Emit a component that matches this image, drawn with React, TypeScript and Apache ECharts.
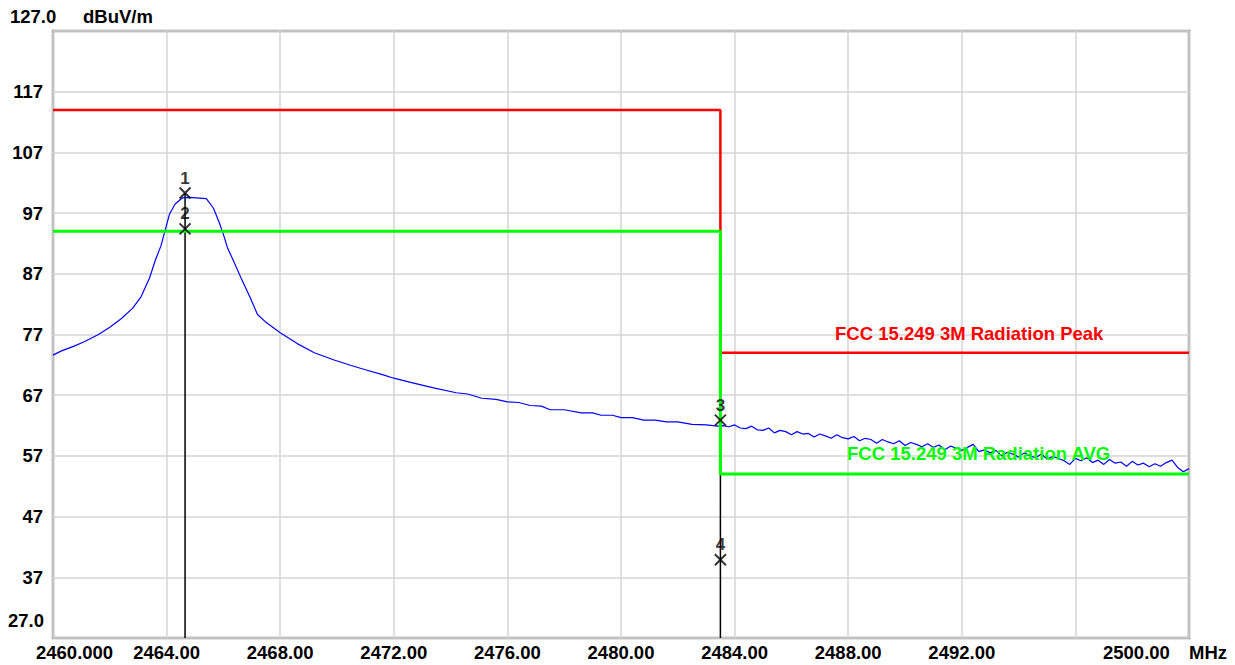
import React, { useEffect, useRef } from "react";
import * as echarts from "echarts";

// Frequency (MHz) / level (dBuV/m) of the measured trace
const traceFreq = [
  2460.0, 2460.3, 2460.7, 2461.1, 2461.6, 2462.0, 2462.4, 2462.8, 2463.1, 2463.4,
  2463.6, 2463.8, 2463.95, 2464.1, 2464.3, 2464.55, 2464.8, 2465.4, 2465.65, 2465.85,
  2466.0, 2466.15, 2466.35, 2466.65, 2466.95, 2467.2, 2467.5, 2468.0, 2468.6, 2469.2,
  2469.9, 2470.5, 2471.0, 2471.6, 2472.0, 2472.7, 2473.4, 2474.2, 2474.6, 2475.1,
  2475.6, 2476.0, 2476.4, 2476.8, 2477.2, 2477.5, 2478.0, 2478.6, 2479.0, 2479.3,
  2479.7, 2480.0, 2480.4, 2480.8, 2481.2, 2481.6, 2482.0, 2482.5, 2483.0, 2483.4,
  2483.6, 2483.8, 2484.0, 2484.2, 2484.4, 2484.6, 2484.8, 2485.0, 2485.2, 2485.4,
  2485.6, 2485.8, 2486.0, 2486.2, 2486.4, 2486.6, 2486.8, 2487.0, 2487.2, 2487.4,
  2487.6, 2487.8, 2488.0, 2488.2, 2488.4, 2488.6, 2488.8, 2489.0, 2489.2, 2489.4,
  2489.6, 2489.8, 2490.0, 2490.2, 2490.4, 2490.6, 2490.8, 2491.0, 2491.2, 2491.4,
  2491.6, 2491.8, 2492.0, 2492.2, 2492.4, 2492.6, 2492.8, 2493.0, 2493.2, 2493.4,
  2493.6, 2493.8, 2494.0, 2494.2, 2494.4, 2494.6, 2494.8, 2495.0, 2495.2, 2495.4,
  2495.6, 2495.8, 2496.0, 2496.2, 2496.4, 2496.6, 2496.8, 2497.0, 2497.2, 2497.4,
  2497.6, 2497.8, 2498.0, 2498.2, 2498.4, 2498.6, 2498.8, 2499.0, 2499.2, 2499.4,
  2499.6, 2499.8, 2500.0,
];
const traceLevel = [
  73.6, 74.3, 75.0, 75.8, 77.0, 78.2, 79.6, 81.3, 83.2, 86.3,
  89.2, 91.6, 94.2, 96.8, 98.5, 99.5, 99.6, 99.4, 97.8, 95.5,
  93.5, 91.2, 89.2, 86.0, 83.0, 80.3, 79.0, 77.3, 75.5, 74.0,
  72.8, 71.9, 71.2, 70.4, 69.8, 69.0, 68.2, 67.4, 67.2, 66.5,
  66.3, 65.9, 65.8, 65.3, 65.2, 64.6, 64.6, 64.1, 64.1, 63.7,
  63.7, 63.3, 63.3, 62.9, 62.9, 62.6, 62.6, 62.2, 62.1, 61.9,
  62.0, 61.8, 62.1, 61.6, 61.5, 61.9, 61.3, 61.2, 61.6, 60.8,
  61.2, 61.0, 60.5, 61.0, 60.6, 60.7, 60.1, 60.6, 60.3, 59.9,
  60.5, 60.0, 59.8, 60.2, 59.5, 59.9, 59.7, 59.1, 59.7, 59.3,
  59.0, 59.5, 58.7, 59.2, 58.9, 58.5, 59.0, 58.4, 58.8, 58.0,
  58.6, 58.3, 57.9, 58.4, 58.9, 57.7, 58.0, 57.5, 57.9, 57.0,
  57.6, 57.3, 56.8, 57.5, 57.0, 56.7, 57.3, 56.5, 56.9, 56.6,
  56.2, 55.6, 56.6, 56.2, 56.7, 55.9, 56.3, 55.6, 56.4, 55.8,
  56.0, 55.3, 56.1, 55.5, 55.8, 55.2, 55.7, 55.3, 55.9, 56.3,
  55.1, 54.4, 54.9,
];

// Limit lines (FCC 15.249 3M)
const peakLimitFreq = [2460, 2483.5, 2483.5, 2500];
const peakLimitLevel = [114, 114, 74, 74];
const avgLimitFreq = [2460, 2483.5, 2483.5, 2500];
const avgLimitLevel = [94, 94, 54, 54];

// Markers
const markerNames = ["1", "2", "3", "4"];
const markerFreq = [2464.65, 2464.65, 2483.5, 2483.5];
const markerLevel = [100.3, 94.4, 62.9, 39.9];

// Axes
const yMin = 27;
const yMax = 127;
const yStep = 10;
const xMin = 2460;
const xMax = 2500;
const xStep = 4;

const FAMILY = "'Liberation Sans', Arial, sans-serif";
const FONT = "bold 18.5px " + FAMILY;

export default function App() {
  const ref = useRef<HTMLDivElement>(null);

  useEffect(() => {
    if (!ref.current) return;
    const chart = echarts.init(ref.current, undefined, { renderer: "svg" });

    const trace = traceFreq.map((f, i) => [f, traceLevel[i]]);
    const peak = peakLimitFreq.map((f, i) => [f, peakLimitLevel[i]]);
    const avg = avgLimitFreq.map((f, i) => [f, avgLimitLevel[i]]);
    const markers = markerNames.map((n, i) => ({ name: n, value: [markerFreq[i], markerLevel[i]] }));
    const stem1 = [[markerFreq[0], markerLevel[0]], [markerFreq[0], yMin]];
    const stem2 = [[markerFreq[2], markerLevel[2]], [markerFreq[2], yMin]];

    const txt = (text: string, x: number, y: number, fill: string, align = "left") => ({
      type: "text",
      x,
      y,
      z: 100,
      style: { text, fill, font: FONT, align, verticalAlign: "middle" },
    });

    chart.setOption({
      animation: false,
      backgroundColor: "#ffffff",
      grid: {
        left: 53,
        top: 31,
        right: 46,
        bottom: 27,
        show: true,
        borderColor: "#8a8a8a",
        borderWidth: 2.5,
        backgroundColor: "transparent",
      },
      xAxis: {
        type: "value",
        min: xMin,
        max: xMax,
        interval: xStep,
        axisLine: { show: false },
        axisTick: { show: false },
        splitLine: { show: true, lineStyle: { color: "#d4d4d4", width: 1.5 } },
        axisLabel: {
          color: "#000",
          fontWeight: "bold",
          fontSize: 18.5,
          fontFamily: FAMILY,
          margin: 5,
          formatter: (v: number) => (v === xMin || v >= 2496 ? "" : v.toFixed(2)),
        },
      },
      yAxis: {
        type: "value",
        min: yMin,
        max: yMax,
        interval: yStep,
        axisLine: { show: false },
        axisTick: { show: false },
        splitLine: { show: true, lineStyle: { color: "#d4d4d4", width: 1.5 } },
        axisLabel: {
          color: "#000",
          fontWeight: "bold",
          fontSize: 18.5,
          fontFamily: FAMILY,
          margin: 10,
          formatter: (v: number) => (v === yMin || v === yMax ? "" : String(v)),
        },
      },
      series: [
        { type: "line", data: stem1, symbol: "none", lineStyle: { color: "#000", width: 1.5 }, z: 2 },
        { type: "line", data: stem2, symbol: "none", lineStyle: { color: "#000", width: 1.5 }, z: 2 },
        { type: "line", data: trace, symbol: "none", lineStyle: { color: "#0000ff", width: 1.2 }, z: 3 },
        { type: "line", data: peak, symbol: "none", lineStyle: { color: "#ff0000", width: 2.5 }, z: 4 },
        { type: "line", data: avg, symbol: "none", lineStyle: { color: "#00ff00", width: 3 }, z: 4 },
        {
          type: "scatter",
          data: markers,
          symbol: "path://M0,0L10,10M10,0L0,10",
          symbolSize: 11,
          itemStyle: { color: "rgba(0,0,0,0)", borderColor: "#000", borderWidth: 2 },
          label: {
            show: true,
            position: "top",
            distance: 0,
            formatter: (p: any) => p.name,
            color: "#000",
            fontWeight: "bold",
            fontSize: 17,
            fontFamily: FAMILY,
          },
          z: 6,
        },
      ],
      graphic: [
        txt("127.0", 10, 16, "#000"),
        txt("dBuV/m", 83, 16, "#000"),
        txt("27.0", 44, 620, "#000", "right"),
        txt("2460.000", 36, 652, "#000"),
        txt("2500.00", 1103, 652, "#000"),
        txt("MHz", 1189, 652, "#000"),
        txt("FCC 15.249 3M Radiation Peak", 835, 333, "#ff0000"),
        txt("FCC 15.249 3M Radiation AVG", 847, 453, "#00ff00"),
      ],
    });

    return () => chart.dispose();
  }, []);

  return <div ref={ref} style={{ position: "fixed", left: 0, top: 0, width: 1235, height: 665 }} />;
}
